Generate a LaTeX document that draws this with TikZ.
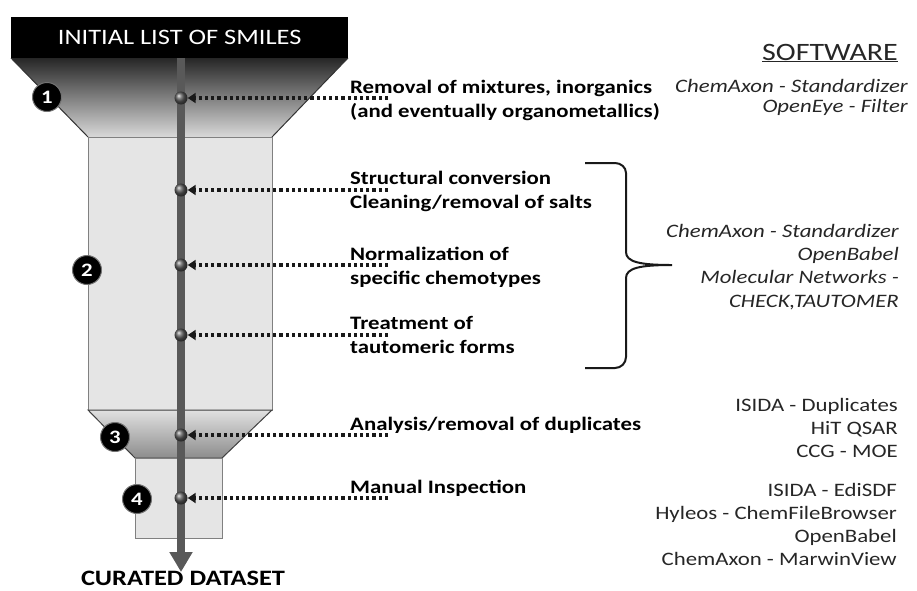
\documentclass[tikz,border=0pt]{standalone}
\usepackage{fontspec}
\setmainfont{Carlito}[FakeStretch=1.2]
\usetikzlibrary{arrows.meta, positioning, calc}

\begin{document}
\begin{tikzpicture}[x=1pt, y=-1pt,
    stage/.style={anchor=base west, align=left, inner sep=0pt,
        font=\fontsize{19}{23.5}\selectfont\bfseries},
    tool/.style={anchor=base east, align=right, inner sep=0pt, text=black!85,
        font=\fontsize{19}{23}\selectfont},
    num/.style={circle, fill=black, draw=black!55, line width=1pt, minimum size=29pt,
        inner sep=0pt, text=white, font=\fontsize{19}{19}\selectfont\bfseries},
    probe/.style={circle, shading=ball, ball color=black!65, minimum size=13pt, inner sep=0pt},
    pointer/.style={-{Triangle[length=8pt,width=10pt]}, line width=3.2pt,
        dash pattern=on 3.2pt off 3pt, black!90},
    flow/.style={-{Triangle[length=20pt,width=22pt]}, line width=8pt, black!65},
    brace/.style={line width=2pt, black!90},
]
\useasboundingbox (0,0) rectangle (917,590);

% Funnel
\path[top color=black!85, bottom color=black!15] (11,58) -- (348,58) -- (272,137) -- (88,137) -- cycle;
\draw[black!80, line width=1pt] (11,58) -- (88,137) (348,58) -- (272,137);
\filldraw[fill=black!10, draw=black!50, line width=1pt] (88,137) rectangle (272,410);
\path[top color=black!12, bottom color=black!45, draw=black!75, line width=1pt]
    (88,410) -- (272,410) -- (222,458) -- (135,458) -- cycle;
\filldraw[fill=black!10, draw=black!50, line width=1pt] (135,458) rectangle (222,538);
\node[fill=black, minimum width=337pt, minimum height=41pt, anchor=north west, inner sep=0pt,
    text=white, font=\fontsize{22}{22}\selectfont] (intake) at (11,17) {INITIAL LIST OF SMILES};

% Main flow
\coordinate (src) at (181,58);
\coordinate (sink) at (181,572);
\draw[flow] (src) -- (sink);
\node[anchor=base, inner sep=0pt, font=\fontsize{22}{22}\selectfont\bfseries] (result) at (183,585) {CURATED DATASET};

% Step numbers
\node[num] (n1) at (47,97) {1};
\node[num] (n2) at (87,270) {2};
\node[num] (n3) at (115,437) {3};
\node[num] (n4) at (137,499) {4};

% Probe points on the flow
\node[probe] (d1) at (181,98) {};
\node[probe] (d2) at (181,190) {};
\node[probe] (d3) at (181,265) {};
\node[probe] (d4) at (181,335) {};
\node[probe] (d5) at (181,435) {};
\node[probe] (d6) at (181,498) {};

% Curation steps (placed by the baseline of the last line)
\node[stage] (s1) at (350,117) {Removal of mixtures, inorganics\\(and eventually organometallics)};
\node[stage] (s2) at (350,208) {Structural conversion\\Cleaning/removal of salts};
\node[stage] (s3) at (350,284) {Normalization of\\specific chemotypes};
\node[stage] (s4) at (350,353) {Treatment of\\tautomeric forms};
\node[stage] (s5) at (350,430) {Analysis/removal of duplicates};
\node[stage] (s6) at (350,493) {Manual Inspection};

\foreach \i in {1,...,6}
    \draw[pointer] (d\i -| s\i.west) ++(38,0) -- (d\i);

% Bracket over step 2
\draw[brace] (585,163) -- (615,163) to[out=0,in=90] (626,173) -- (626,252)
    .. controls (626,262) and (640,265) .. (672,265)
    .. controls (640,265) and (626,268) .. (626,278) -- (626,357)
    to[out=-90,in=0] (615,368) -- (585,368);

% Software
\node[anchor=base east, inner sep=0pt, text=black!85, font=\fontsize{25}{25}\selectfont] (swhead) at (898,60) {\underline{SOFTWARE}};
\node[tool, font=\fontsize{19}{19.5}\selectfont\itshape] (sw1) at (908,112) {ChemAxon - Standardizer\\OpenEye - Filter};
\node[tool, font=\fontsize{19}{23.3}\selectfont\itshape] (sw2) at (899,307) {ChemAxon - Standardizer\\OpenBabel\\Molecular Networks -\\CHECK,TAUTOMER};
\node[tool] (sw3) at (898,457) {ISIDA - Duplicates\\HiT QSAR\\CCG - MOE};
\node[tool] (sw4) at (897,565) {ISIDA - EdiSDF\\Hyleos - ChemFileBrowser\\OpenBabel\\ChemAxon - MarwinView};
\end{tikzpicture}
\end{document}
